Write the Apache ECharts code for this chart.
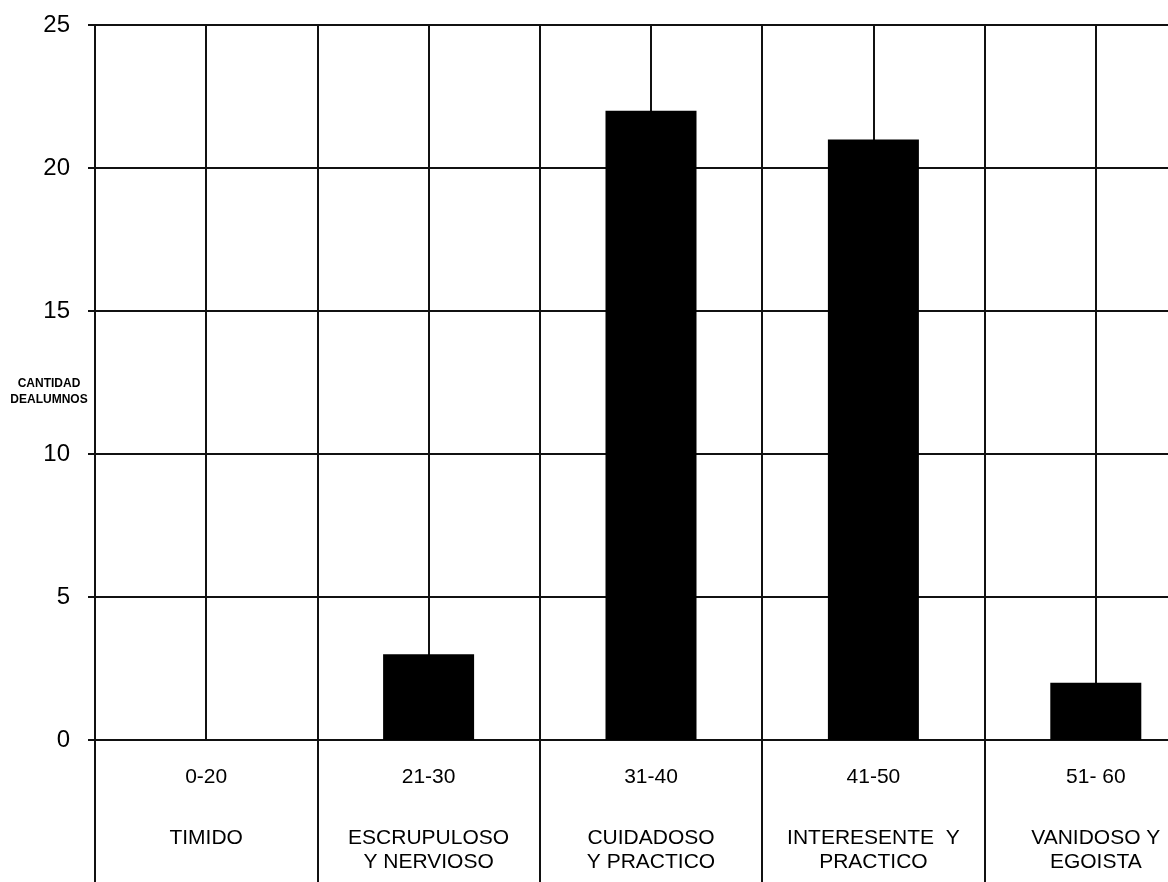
<!DOCTYPE html>
<html>
<head>
<meta charset="utf-8">
<script src="https://cdn.jsdelivr.net/npm/echarts@6/dist/echarts.min.js"></script>
<style>
html,body{margin:0;padding:0;background:#fff;}
#chart{width:1168px;height:882px;}
</style>
</head>
<body>
<div id="chart"></div>
<script>
var ranges = ['0-20', '21-30', '31-40', '41-50', '51- 60'];
var traits = [['TIMIDO'], ['ESCRUPULOSO', 'Y NERVIOSO'], ['CUIDADOSO', 'Y PRACTICO'], ['INTERESENTE  Y', 'PRACTICO'], ['VANIDOSO Y', 'EGOISTA']];
var counts = [0, 3, 22, 21, 2];
var yTicks = {min: 0, max: 25, interval: 5};
var yName = 'CANTIDAD\nDEALUMNOS';

var FONT = '"Liberation Sans", Arial, sans-serif';
var INK = '#111';

var chart = echarts.init(document.getElementById('chart'), null, {renderer: 'canvas'});
chart.setOption({
  backgroundColor: '#fff',
  animation: false,
  title: {
    text: yName,
    left: 49,
    top: 376,
    padding: 0,
    textAlign: 'center',
    textStyle: {fontFamily: FONT, fontSize: 12, fontWeight: 'bold', color: '#000', lineHeight: 16}
  },
  grid: {left: 95, top: 25, bottom: 142, right: -39, containLabel: false, outerBoundsMode: 'none'},
  xAxis: [{
    type: 'category',
    data: ranges,
    boundaryGap: true,
    axisLine: {show: true, lineStyle: {color: INK, width: 2}},
    axisTick: {show: true, length: 142, lineStyle: {color: INK, width: 2}},
    splitLine: {show: false},
    axisLabel: {
      margin: 12,
      interval: 0,
      fontFamily: FONT,
      color: '#000',
      formatter: function (v, i) {
        var s = '{a|' + v + '}\n{s| }';
        traits[i].forEach(function (t) { s += '\n{b|' + t + '}'; });
        return s;
      },
      rich: {
        a: {fontSize: 21, lineHeight: 50, fontFamily: FONT, color: '#000', align: 'center'},
        s: {fontSize: 10, lineHeight: 24, fontFamily: FONT},
        b: {fontSize: 21, lineHeight: 24, fontFamily: FONT, color: '#000', align: 'center'}
      }
    }
  }, {
    type: 'value',
    min: 0, max: 5, interval: 0.5,
    position: 'bottom',
    axisLine: {show: false},
    axisTick: {show: false},
    axisLabel: {show: false},
    splitLine: {show: true, lineStyle: {color: INK, width: 2}}
  }],
  yAxis: {
    type: 'value',
    min: yTicks.min, max: yTicks.max, interval: yTicks.interval,
    axisLine: {show: true, lineStyle: {color: INK, width: 2}},
    axisTick: {show: true, length: 7, lineStyle: {color: INK, width: 2}},
    splitLine: {show: true, lineStyle: {color: INK, width: 2}},
    axisLabel: {margin: 25, fontFamily: FONT, fontSize: 24, color: '#000'}
  },
  series: [{
    type: 'bar',
    xAxisIndex: 0,
    data: counts,
    barWidth: 91,
    itemStyle: {color: '#000'}
  }]
});
</script>
</body>
</html>
